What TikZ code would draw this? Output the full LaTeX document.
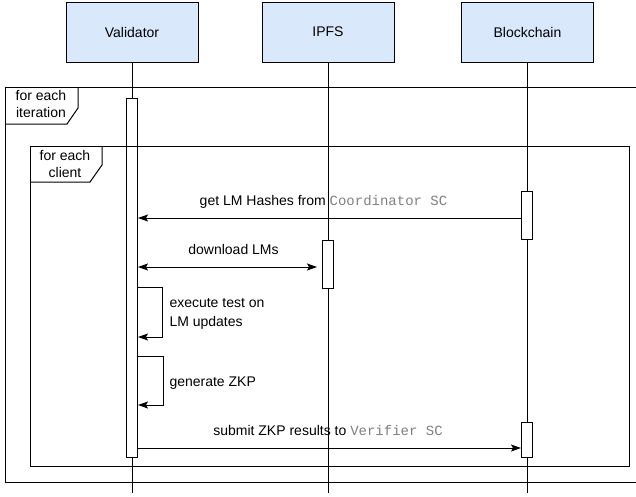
\documentclass[tikz,border=0pt]{standalone}
\usepackage{fontspec}
\setmainfont{Liberation Sans}
\setmonofont{Liberation Mono}
\usetikzlibrary{arrows.meta}
\definecolor{actorfill}{HTML}{DAE8FC}
\definecolor{codegray}{HTML}{808080}
\newcommand\sccode[1]{{\ttfamily\color{codegray}#1}}
\begin{document}
\begin{tikzpicture}[x=1pt, y=-1pt, line width=1pt,
  font=\fontsize{14}{17}\selectfont,
  actor/.style={draw, fill=actorfill, minimum width=132pt, minimum height=60pt, inner sep=0pt},
  bar/.style={draw, fill=white, minimum width=11pt, inner sep=0pt, anchor=north},
  msg/.style={-{Stealth[length=10pt, width=7pt, inset=2pt]}},
  lbl/.style={inner sep=0pt, anchor=base},
  framelbl/.style={inner sep=0pt, anchor=base, align=center}]
\useasboundingbox (0,0) rectangle (636,496);

% participants
\node[actor] (val)  at (132,32)   {Validator};
\node[actor] (ipfs) at (328,32)   {IPFS};
\node[actor] (bc)   at (527.5,32) {Blockchain};

% lifelines
\coordinate (valEnd)  at (132,493);
\coordinate (ipfsEnd) at (328,493);
\coordinate (bcEnd)   at (527,493);
\draw (val.south)  -- (valEnd);
\draw (ipfs.south) -- (ipfsEnd);
\draw (bc.south -| bcEnd) -- (bcEnd);

% activation bars
\node[bar, minimum height=359pt] (valBar)  at (132,98)  {};
\node[bar, minimum height=48pt]  (ipfsBar) at (328,240) {};
\node[bar, minimum height=48pt]  (bcBar1)  at (527,191) {};
\node[bar, minimum height=35pt]  (bcBar2)  at (527,422) {};

% loop frame: for each iteration
\draw (636,87) -- (5,87) -- (5,482) -- (636,482);
\draw (5,124) -- (67,124) -- (78,108) -- (78,87);
\node[framelbl] (iterLbl) at (41,117) {for each\\iteration};

% loop frame: for each client
\draw (30,146) rectangle (629,466);
\draw (30,182) -- (90,182) -- (102,165) -- (102,146);
\node[framelbl] (clientLbl) at (65,177) {for each\\client};

% messages
\draw[msg] (bcBar1.west |- 0,218) -- (valBar.east |- 0,218);
\node[lbl] (m1) at (323.5,205) {get LM Hashes from \sccode{Coordinator SC}};

\draw[{Stealth[length=10pt, width=7pt, inset=2pt]}-{Stealth[length=10pt, width=7pt, inset=2pt]}, shorten >=5pt]
  (valBar.east |- 0,267) -- (ipfsBar.west |- 0,267);
\node[lbl] (m2) at (233.5,254) {download LMs};

\draw[msg] (valBar.east |- 0,287) -- (162,287) |- (valBar.east |- 0,337);
\node[inner sep=0pt, anchor=base west, align=left] (m3) at (169,326) {execute test on\\[2pt]LM updates};

\draw[msg] (valBar.east |- 0,356) -- (163,356) |- (valBar.east |- 0,405);
\node[inner sep=0pt, anchor=base west] (m4) at (169,386) {generate ZKP};

\draw[msg] (valBar.east |- 0,448) -- (bcBar2.west |- 0,448);
\node[lbl] (m5) at (328,435) {submit ZKP results to \sccode{Verifier SC}};
\end{tikzpicture}
\end{document}
